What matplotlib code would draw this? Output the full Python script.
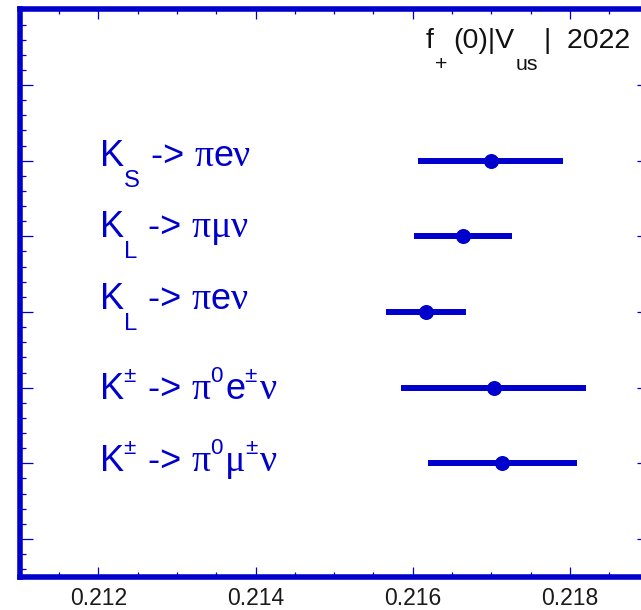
import matplotlib
matplotlib.use("Agg")
import matplotlib.pyplot as plt
from matplotlib.ticker import MultipleLocator, FixedLocator

# f+(0)|Vus| extracted from each semileptonic kaon channel (top to bottom)
channels = ["KS e3", "KL mu3", "KL e3", "K+- e3", "K+- mu3"]
values = [0.21699, 0.21664, 0.21617, 0.21703, 0.21714]
errors = [0.00092, 0.00062, 0.00051, 0.00118, 0.00095]
rows = [6, 5, 4, 3, 2]

x_ticks = [0.212, 0.214, 0.216, 0.218]
x_ticklabels = ["0.212", "0.214", "0.216", "0.218"]

# channel labels as (text, style) pieces: main / sub / sup / greek
channel_labels = [
    [("K", "main"), ("S", "sub"), (" -> ", "main"), ("π", "greek"), ("e", "main"), ("ν", "greek")],
    [("K", "main"), ("L", "sub"), (" -> ", "main"), ("π", "greek"), ("μ", "greek"), ("ν", "greek")],
    [("K", "main"), ("L", "sub"), (" -> ", "main"), ("π", "greek"), ("e", "main"), ("ν", "greek")],
    [("K", "main"), ("±", "sup"), (" -> ", "main"), ("π", "greek"), ("0", "sup"), ("e", "main"),
     ("±", "sup"), ("ν", "greek")],
    [("K", "main"), ("±", "sup"), (" -> ", "main"), ("π", "greek"), ("0", "sup"), ("μ", "greek"),
     ("±", "sup"), ("ν", "greek")],
]
title_pieces = [("f", "main"), ("+", "sub"), ("(0)|V", "main"), ("us", "sub"), ("|  2022", "main")]

BLUE = "#0000cc"
W, H = 641, 610
SANS = "Liberation Sans"
SERIF = "Liberation Serif"

fig = plt.figure(figsize=(W / 100, H / 100), dpi=100)
fig.patch.set_facecolor("white")
ax = fig.add_axes([19.9 / W, (H - 576.8) / H, (648.5 - 19.9) / W, (576.8 - 9.4) / H])
ax.set_xlim(0.211, 0.219)
ax.set_ylim(0.5, 8.0)

for side in ax.spines.values():
    side.set_color(BLUE)
    side.set_linewidth(4.0)

ax.xaxis.set_major_locator(FixedLocator(x_ticks))
ax.set_xticklabels(x_ticklabels)
ax.xaxis.set_minor_locator(MultipleLocator(0.0005))
ax.yaxis.set_major_locator(MultipleLocator(1))
ax.yaxis.set_minor_locator(MultipleLocator(0.2))
ax.tick_params(axis="both", which="both", direction="in", top=True, right=True,
               color=BLUE, width=0.9)
ax.tick_params(axis="x", which="major", length=7, pad=7.5, labelsize=16.5,
               labelcolor="#1a1a1a")
ax.tick_params(axis="x", which="minor", length=3.5)
ax.tick_params(axis="y", which="major", length=9, labelleft=False)
ax.tick_params(axis="y", which="minor", length=4.5)
for lab in ax.get_xticklabels():
    lab.set_family(SANS)

# error bars and central values
ax.hlines(rows, [v - e for v, e in zip(values, errors)],
          [v + e for v, e in zip(values, errors)], colors=BLUE, linewidth=4.3)
ax.plot(values, rows, "o", color=BLUE, markersize=10.8, markeredgewidth=0)

renderer = fig.canvas.get_renderer()


def draw_rich(x_px, y_px, pieces, color, main_size, styles):
    """Lay out text pieces left to right; styles give (scale, dy, family, lead, trail)."""
    for s, kind in pieces:
        scale, dy, family, lead, trail = styles[kind]
        x_px += lead
        t = fig.text(x_px / W, (y_px + dy) / H, s, fontsize=scale * main_size,
                     family=family, color=color, ha="left", va="baseline")
        bb = t.get_window_extent(renderer)
        x_px = bb.x1 + trail


label_styles = {
    "main": (1.0, 0, SANS, 0, 0),
    "sub": (0.66, -21, SANS, 0, 1),
    "sup": (0.62, 17, SANS, -1, 3),
    "greek": (1.05, 0, SERIF, 0, 0),
}
# baseline shift of each label relative to its row, in pixels (up positive)
label_shift = [-5.3, -0.7, 3.4, -11.6, -7.4]

for r, pieces, sh in zip(rows, channel_labels, label_shift):
    y_row = ax.transData.transform((0.212, r))[1]
    draw_rich(100, y_row + sh, pieces, BLUE, 26, label_styles)

title_styles = {
    "main": (1.0, 0, SANS, 0, 0),
    "sub": (0.75, -22, SANS, 1, 6),
}
draw_rich(426, H - 48, title_pieces, "#111111", 20.5, title_styles)

fig.savefig("out.png", dpi=100, facecolor="white")
